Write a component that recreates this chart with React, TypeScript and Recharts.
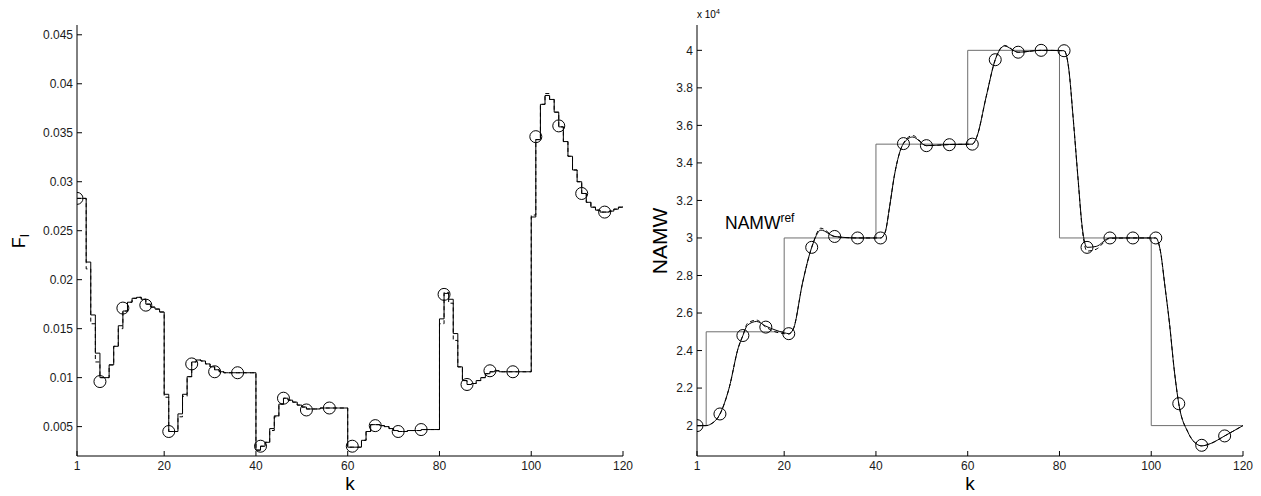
import React from 'react';
import { LineChart, Line, XAxis, YAxis } from 'recharts';

// ---------- categories / ticks ----------
const kValues: number[] = Array.from({ length: 120 }, (_, i) => i + 1);
const kTicks = [1, 20, 40, 60, 80, 100, 120];
const fTicks = [0.005, 0.01, 0.015, 0.02, 0.025, 0.03, 0.035, 0.04, 0.045];
const namwTicks = [20000, 22000, 24000, 26000, 28000, 30000, 32000, 34000, 36000, 38000, 40000];

// ---------- left panel: F_I ----------
const fSolid = [
  0.0283, 0.0283, 0.0218, 0.0164, 0.0125, 0.0100, 0.0100, 0.0113, 0.0132, 0.0153,
  0.0168, 0.0177, 0.0181, 0.0182, 0.0180, 0.0175, 0.0172, 0.0170, 0.0167, 0.0083,
  0.0045, 0.0045, 0.0063, 0.0083, 0.0101, 0.0116, 0.0118, 0.0117, 0.0114, 0.0111,
  0.0108, 0.0106, 0.0105, 0.0105, 0.0105, 0.0105, 0.0105, 0.0105, 0.0105, 0.0026,
  0.0030, 0.0034, 0.0048, 0.0061, 0.0073, 0.0079, 0.0077, 0.0075, 0.0072, 0.0070,
  0.0068, 0.0068, 0.0068, 0.0069, 0.0069, 0.0069, 0.0069, 0.0069, 0.0069, 0.0029,
  0.0029, 0.0029, 0.0036, 0.0045, 0.0052, 0.0052, 0.0051, 0.0050, 0.0048, 0.0046,
  0.0045, 0.0045, 0.0046, 0.0046, 0.0046, 0.0047, 0.0047, 0.0047, 0.0047, 0.0160,
  0.0186, 0.0180, 0.0145, 0.0111, 0.0097, 0.0093, 0.0094, 0.0097, 0.0100, 0.0104,
  0.0106, 0.0107, 0.0106, 0.0106, 0.0106, 0.0106, 0.0106, 0.0106, 0.0106, 0.0264,
  0.0343, 0.0379, 0.0388, 0.0384, 0.0371, 0.0356, 0.0341, 0.0326, 0.0312, 0.0300,
  0.0288, 0.0279, 0.0274, 0.0271, 0.0269, 0.0269, 0.0270, 0.0272, 0.0274, 0.0275,
];
const fDashed = [
  0.0283, 0.0283, 0.0211, 0.0155, 0.0116, 0.0100, 0.0100, 0.0113, 0.0132, 0.0150,
  0.0168, 0.0177, 0.0181, 0.0182, 0.0180, 0.0175, 0.0172, 0.0170, 0.0167, 0.0080,
  0.0045, 0.0045, 0.0060, 0.0081, 0.0101, 0.0116, 0.0118, 0.0117, 0.0114, 0.0111,
  0.0108, 0.0106, 0.0105, 0.0105, 0.0105, 0.0105, 0.0105, 0.0105, 0.0105, 0.0026,
  0.0030, 0.0034, 0.0046, 0.0060, 0.0073, 0.0079, 0.0077, 0.0075, 0.0072, 0.0070,
  0.0068, 0.0068, 0.0068, 0.0069, 0.0069, 0.0069, 0.0069, 0.0069, 0.0069, 0.0029,
  0.0029, 0.0029, 0.0036, 0.0045, 0.0052, 0.0052, 0.0051, 0.0050, 0.0048, 0.0046,
  0.0045, 0.0045, 0.0046, 0.0046, 0.0046, 0.0047, 0.0047, 0.0047, 0.0047, 0.0155,
  0.0187, 0.0176, 0.0138, 0.0111, 0.0097, 0.0093, 0.0094, 0.0097, 0.0100, 0.0104,
  0.0106, 0.0107, 0.0106, 0.0106, 0.0106, 0.0106, 0.0106, 0.0106, 0.0106, 0.0266,
  0.0343, 0.0379, 0.0390, 0.0384, 0.0371, 0.0356, 0.0341, 0.0326, 0.0312, 0.0300,
  0.0288, 0.0279, 0.0274, 0.0271, 0.0269, 0.0269, 0.0270, 0.0272, 0.0274, 0.0275,
];
const markerK = [1, 6, 11, 16, 21, 26, 31, 36, 41, 46, 51, 56, 61, 66, 71, 76, 81, 86, 91, 96, 101, 106, 111, 116];
const fMarkers = [
  0.0283, 0.0096, 0.0171, 0.0174, 0.0045, 0.0114, 0.0106, 0.0105, 0.0030, 0.0079, 0.0067, 0.0069,
  0.0030, 0.0051, 0.0045, 0.0047, 0.0185, 0.0093, 0.0107, 0.0106, 0.0346, 0.0357, 0.0288, 0.0269,
];

// ---------- right panel: NAMW ----------
const namwK = [
  1, 3, 4, 6, 8, 10, 11, 12, 14, 16, 18, 20, 21, 22, 24, 26, 28, 31, 36, 41, 42, 43, 44, 46, 48, 51, 56,
  61, 62, 64, 66, 68, 71, 76, 81, 82, 83, 84, 85, 86, 88, 91, 96, 101, 102, 103, 104, 105, 106, 108, 110,
  111, 113, 116, 120,
];
const namwSolid = [
  20000, 20000, 20080, 20620, 22000, 24150, 24800, 25350, 25550, 25300, 25100, 24950, 24900, 25150, 27600,
  29500, 30420, 30080, 30000, 30000, 30300, 31700, 33300, 35030, 35380, 34920, 34980,
  35000, 35400, 37500, 39500, 40230, 39900, 40000, 39980, 39060, 36350, 33300, 30500, 29500, 29550, 30000,
  30000, 30000, 29300, 27400, 25400, 23000, 21170, 19650, 19000,
  18920, 19050, 19450, 20000,
];
const namwDashed = [
  20000, 20000, 20080, 20600, 22000, 24150, 24800, 25450, 25620, 25250, 25000, 24900, 24880, 25150, 27600,
  29500, 30520, 30080, 30000, 30000, 30300, 31700, 33300, 35050, 35460, 34920, 34980,
  35000, 35400, 37500, 39500, 40260, 39900, 40000, 39980, 39060, 36350, 33300, 30400, 29300, 29400, 29980,
  30000, 30000, 29300, 27400, 25400, 23000, 21170, 19650, 19000,
  18920, 19050, 19450, 20000,
];
const namwMarkers = [
  20000, 20620, 24800, 25250, 24900, 29500, 30080, 30000, 30000, 35030, 34920, 34970,
  35000, 39500, 39900, 40000, 39980, 29500, 30000, 30000, 30000, 21170, 18950, 19450,
];
const refK = [1, 3, 20, 40, 60, 80, 100, 120];
const refValues = [20000, 25000, 30000, 35000, 40000, 30000, 20000, 20000];

// ---------- build series rows ----------
const leftSolidData = kValues.map((k, i) => ({ k, v: fSolid[i] }));
const leftDashedData = kValues.map((k, i) => ({ k, v: fDashed[i] }));
const leftMarkerData = markerK.map((k, i) => ({ k, v: fMarkers[i] }));
const rightSolidData = namwK.map((k, i) => ({ k, v: namwSolid[i] }));
const rightDashedData = namwK.map((k, i) => ({ k, v: namwDashed[i] }));
const rightMarkerData = markerK.map((k, i) => ({ k, v: namwMarkers[i] }));
const refData = refK.map((k, i) => ({ k, v: refValues[i] }));

const FONT = '"Liberation Sans", Arial, Helvetica, sans-serif';
const tickStyle = { fontFamily: FONT, fontSize: 12, fill: '#1a1a1a' };
const markerDot = { r: 6, stroke: '#000', strokeWidth: 1, fill: 'none' };

const fmtF = (v: number) => String(parseFloat(v.toFixed(3)));
const fmtN = (v: number) => String(parseFloat((v / 10000).toFixed(1)));

const FLabel = () => (
  <text
    x={25}
    y={241}
    transform="rotate(-90 25 241)"
    textAnchor="middle"
    fontFamily={FONT}
    fontSize={18}
    fill="#000"
  >
    F
    <tspan dy={4} fontSize={12}>
      I
    </tspan>
  </text>
);

const KLabelLeft = () => (
  <text x={350} y={490} textAnchor="middle" fontFamily={FONT} fontSize={19} fill="#000">
    k
  </text>
);

const KLabelRight = () => (
  <text x={330} y={490} textAnchor="middle" fontFamily={FONT} fontSize={19} fill="#000">
    k
  </text>
);

const NamwLabel = () => (
  <g>
    <text
      x={27}
      y={241}
      transform="rotate(-90 27 241)"
      textAnchor="middle"
      fontFamily={FONT}
      fontSize={21}
      fill="#000"
    >
      NAMW
    </text>
    <text x={57} y={18} fontFamily={FONT} fontSize={10} fill="#000">
      x 10
      <tspan dy={-4} fontSize={7}>
        4
      </tspan>
    </text>
    <text x={85} y={229} fontFamily={FONT} fontSize={17.5} fill="#000">
      NAMW
      <tspan dy={-7} fontSize={12}>
        ref
      </tspan>
    </text>
  </g>
);

export default function App() {
  return (
    <div style={{ position: 'absolute', left: 0, top: 0, width: 1261, height: 496, background: '#fff' }}>
      <div style={{ position: 'absolute', left: 0, top: 0 }}>
        <LineChart width={640} height={496} margin={{ top: 25, right: 17, bottom: 10, left: 17 }}>
          <XAxis
            xAxisId="b"
            dataKey="k"
            type="number"
            domain={[1, 120]}
            ticks={kTicks}
            allowDataOverflow
            height={30}
            tickSize={-5}
            tickMargin={10}
            tick={tickStyle}
            axisLine={{ stroke: '#000', strokeWidth: 1 }}
            tickLine={{ stroke: '#000' }}
            label={<KLabelLeft />}
          />
          <XAxis
            xAxisId="t"
            orientation="top"
            dataKey="k"
            type="number"
            domain={[1, 120]}
            ticks={kTicks}
            allowDataOverflow
            height={0}
            tickSize={-5}
            tick={false}
            axisLine={{ stroke: '#3a3a3a', strokeWidth: 1.5 }}
            tickLine={{ stroke: '#000' }}
          />
          <YAxis
            yAxisId="l"
            type="number"
            domain={[0.002, 0.046]}
            ticks={fTicks}
            allowDataOverflow
            width={60}
            tickSize={-5}
            tickMargin={9}
            tick={tickStyle}
            tickFormatter={fmtF}
            axisLine={{ stroke: '#000', strokeWidth: 1 }}
            tickLine={{ stroke: '#000' }}
            label={<FLabel />}
          />
          <YAxis
            yAxisId="r"
            orientation="right"
            type="number"
            domain={[0.002, 0.046]}
            ticks={fTicks}
            allowDataOverflow
            width={0}
            tickSize={-5}
            tick={false}
            axisLine={{ stroke: '#3a3a3a', strokeWidth: 1.5 }}
            tickLine={{ stroke: '#000' }}
          />
          <Line
            xAxisId="b"
            yAxisId="l"
            data={leftDashedData}
            dataKey="v"
            type="stepAfter"
            stroke="#000"
            strokeWidth={1}
            strokeDasharray="4 3"
            dot={false}
            activeDot={false}
            isAnimationActive={false}
          />
          <Line
            xAxisId="b"
            yAxisId="l"
            data={leftSolidData}
            dataKey="v"
            type="stepAfter"
            stroke="#000"
            strokeWidth={1}
            dot={false}
            activeDot={false}
            isAnimationActive={false}
          />
          <Line
            xAxisId="b"
            yAxisId="l"
            data={leftMarkerData}
            dataKey="v"
            stroke="none"
            dot={markerDot}
            activeDot={false}
            isAnimationActive={false}
          />
        </LineChart>
      </div>
      <div style={{ position: 'absolute', left: 640, top: 0 }}>
        <LineChart width={621} height={496} margin={{ top: 25, right: 18, bottom: 10, left: 7 }}>
          <XAxis
            xAxisId="b"
            dataKey="k"
            type="number"
            domain={[1, 120]}
            ticks={kTicks}
            allowDataOverflow
            height={30}
            tickSize={-5}
            tickMargin={10}
            tick={tickStyle}
            axisLine={{ stroke: '#000', strokeWidth: 1 }}
            tickLine={{ stroke: '#000' }}
            label={<KLabelRight />}
          />
          <XAxis
            xAxisId="t"
            orientation="top"
            dataKey="k"
            type="number"
            domain={[1, 120]}
            ticks={kTicks}
            allowDataOverflow
            height={0}
            tickSize={-5}
            tick={false}
            axisLine={{ stroke: '#3a3a3a', strokeWidth: 1.5 }}
            tickLine={{ stroke: '#000' }}
          />
          <YAxis
            yAxisId="l"
            type="number"
            domain={[18380, 41350]}
            ticks={namwTicks}
            allowDataOverflow
            width={50}
            tickSize={-5}
            tickMargin={9}
            tick={tickStyle}
            tickFormatter={fmtN}
            axisLine={{ stroke: '#000', strokeWidth: 1 }}
            tickLine={{ stroke: '#000' }}
            label={<NamwLabel />}
          />
          <YAxis
            yAxisId="r"
            orientation="right"
            type="number"
            domain={[18380, 41350]}
            ticks={namwTicks}
            allowDataOverflow
            width={0}
            tickSize={-5}
            tick={false}
            axisLine={{ stroke: '#3a3a3a', strokeWidth: 1.5 }}
            tickLine={{ stroke: '#000' }}
          />
          <Line
            xAxisId="b"
            yAxisId="l"
            data={refData}
            dataKey="v"
            type="stepAfter"
            stroke="#6e6e6e"
            strokeWidth={1}
            dot={false}
            activeDot={false}
            isAnimationActive={false}
          />
          <Line
            xAxisId="b"
            yAxisId="l"
            data={rightDashedData}
            dataKey="v"
            type="monotone"
            stroke="#000"
            strokeWidth={1}
            strokeDasharray="4 3"
            dot={false}
            activeDot={false}
            isAnimationActive={false}
          />
          <Line
            xAxisId="b"
            yAxisId="l"
            data={rightSolidData}
            dataKey="v"
            type="monotone"
            stroke="#000"
            strokeWidth={1}
            dot={false}
            activeDot={false}
            isAnimationActive={false}
          />
          <Line
            xAxisId="b"
            yAxisId="l"
            data={rightMarkerData}
            dataKey="v"
            stroke="none"
            dot={markerDot}
            activeDot={false}
            isAnimationActive={false}
          />
        </LineChart>
      </div>
    </div>
  );
}
